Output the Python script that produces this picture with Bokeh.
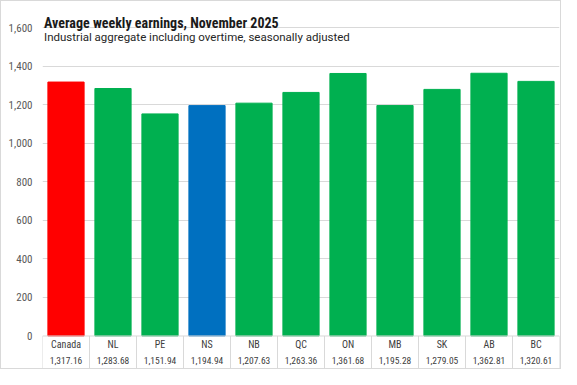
from bokeh.plotting import figure
from bokeh.models import (ColumnDataSource, Range1d, FixedTicker, NumeralTickFormatter, Label)
from bokeh.core.properties import value
from bokeh.embed import file_html
from bokeh.resources import INLINE

# ---- data ----
regions = ["Canada", "NL", "PE", "NS", "NB", "QC", "ON", "MB", "SK", "AB", "BC"]
earnings = [1317.16, 1283.68, 1151.94, 1194.94, 1207.63, 1263.36, 1361.68, 1195.28, 1279.05, 1362.81, 1320.61]
y_ticks = [0, 200, 400, 600, 800, 1000, 1200, 1400, 1600]
title_text = "Average weekly earnings, November 2025"
subtitle_text = "Industrial aggregate including overtime, seasonally adjusted"

# ---- style ----
RED, BLUE, GREEN = "#FF0000", "#0070C0", "#00B050"
special = {"Canada": RED, "NS": BLUE}
colors = [special.get(r, GREEN) for r in regions]
GRID = "#D9D9D9"
TXT = "#404040"
NARROW = "'Liberation Sans Narrow', 'Roboto Condensed', Roboto"

W, H = 561, 369
Y_MIN, Y_MAX = -179, 1735
ROW1, ROW2, TBL_BOTTOM = -42, -129, -169

idx = list(range(len(regions)))
src = ColumnDataSource(dict(
    x=idx, top=earnings, color=colors, name=regions,
    label=[f"{v:,.2f}" for v in earnings],
    y1=[ROW1] * len(regions), y2=[ROW2] * len(regions)))

p = figure(width=W, height=H, output_backend="svg", toolbar_location=None,
           x_range=Range1d(-0.5, len(regions) - 0.5), y_range=Range1d(Y_MIN, Y_MAX),
           x_axis_location=None, min_border_left=41, min_border_right=3,
           min_border_top=0, min_border_bottom=0)
p.outline_line_color = None
p.background_fill_color = "white"
p.border_fill_color = "white"
p.styles = {"border": "1px solid #D9D9D9"}

# grid
p.xgrid.visible = False
p.ygrid.ticker = FixedTicker(ticks=[t for t in y_ticks if t > 0])
p.ygrid.grid_line_color = GRID
p.ygrid.grid_line_width = 1

# y axis
ax = p.yaxis[0]
ax.ticker = FixedTicker(ticks=y_ticks)
ax.formatter = NumeralTickFormatter(format="0,0")
ax.axis_line_color = None
ax.major_tick_line_color = None
ax.minor_tick_line_color = None
ax.major_label_text_font = NARROW
ax.major_label_text_font_size = "11px"
ax.major_label_text_color = "#595959"
ax.major_label_standoff = 4

# bars
p.vbar(x="x", top="top", bottom=0, width=0.77, color="color", source=src)

# data table lines
n = len(regions)
bounds = [i - 0.5 for i in range(n + 1)]
p.segment(x0=bounds, y0=[0] * len(bounds), x1=bounds, y1=[TBL_BOTTOM] * len(bounds),
          line_color=GRID, line_width=1)
p.segment(x0=[-0.5, -0.5], y0=[0, TBL_BOTTOM], x1=[n - 0.5, n - 0.5], y1=[0, TBL_BOTTOM],
          line_color=GRID, line_width=1)

# table text
p.text(x="x", y="y1", text="name", source=src, text_align="center", text_baseline="middle",
       text_font=value(NARROW), text_font_size="10px", text_color=TXT)
p.text(x="x", y="y2", text="label", source=src, text_align="center", text_baseline="middle",
       text_font=value(NARROW), text_font_size="9.5px", text_color=TXT)

# titles
p.add_layout(Label(x=1.5, y=H - 21.8, x_units="screen", y_units="screen", text=title_text,
                   text_font=NARROW, text_font_style="bold", text_font_size="14px",
                   text_color="#1a1a1a", text_baseline="alphabetic"))
p.add_layout(Label(x=1.5, y=H - 35.5, x_units="screen", y_units="screen", text=subtitle_text,
                   text_font="'Liberation Sans Narrow', Roboto", text_font_size="11.5px",
                   text_color="#262626", text_baseline="alphabetic"))

open("out.html", "w").write(file_html(p, INLINE))
